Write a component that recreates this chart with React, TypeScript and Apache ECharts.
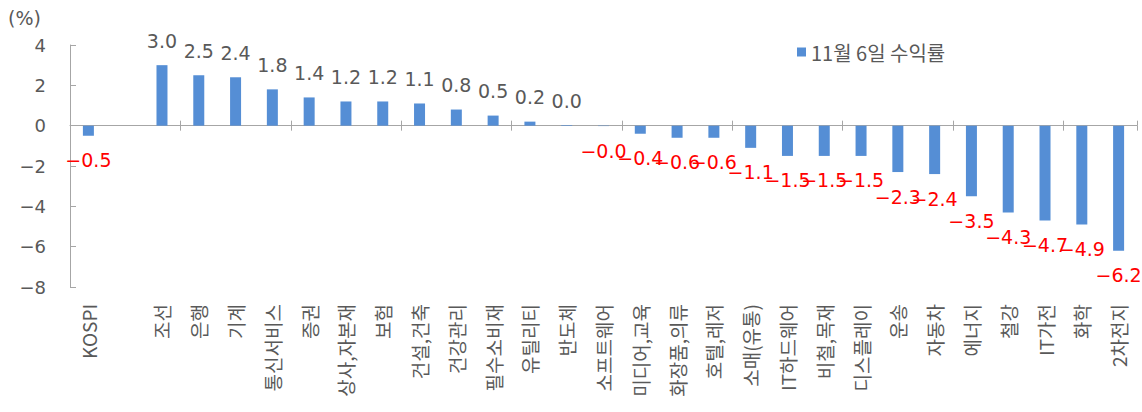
import React, { useEffect, useRef } from "react";
import * as echarts from "echarts";

const categories: string[] = [
  "KOSPI", "", "조선", "은행", "기계", "통신서비스", "증권", "상사,자본재", "보험",
  "건설,건축", "건강관리", "필수소비재", "유틸리티", "반도체", "소프트웨어",
  "미디어,교육", "화장품,의류", "호텔,레저", "소매(유통)", "IT하드웨어", "비철,목재",
  "디스플레이", "운송", "자동차", "에너지", "철강", "IT가전", "화학", "2차전지",
];

const returns: (number | null)[] = [
  -0.5, null, 3.0, 2.5, 2.4, 1.8, 1.4, 1.2, 1.2,
  1.1, 0.8, 0.5, 0.2, 0.03, -0.02,
  -0.4, -0.6, -0.6, -1.1, -1.5, -1.5,
  -1.5, -2.3, -2.4, -3.5, -4.3, -4.7, -4.9, -6.2,
];

const seriesName = "11월 6일 수익률";
const yTicks = { min: -8, max: 4, interval: 2 };
const unitLabel = "(%)";

const GRAY = "#595959";
const AXIS = "#a6a6a6";
const BLUE = "#558ed5";

const fmtNum = (v: number, digits: number) => {
  const s = digits >= 0 ? v.toFixed(digits) : String(v);
  return s.replace("-", "\u2212");
};

export default function App() {
  const ref = useRef<HTMLDivElement>(null);
  useEffect(() => {
    if (!ref.current) return;
    const chart = echarts.init(ref.current, undefined, { renderer: "svg" });
    const data = returns.map((v) =>
      v === null
        ? null
        : {
            value: v,
            label: {
              position: v < 0 ? "bottom" : "top",
              color: v < 0 ? "#ff0000" : GRAY,
            },
          }
    );
    chart.setOption({
      animation: false,
      grid: { left: 70, right: 5, top: 45, bottom: 125 },
      legend: {
        data: [seriesName],
        left: 792,
        top: 37,
        icon: "rect",
        itemWidth: 9,
        itemHeight: 9,
        itemGap: 8,
        textStyle: { fontSize: 20, color: GRAY, fontFamily: "Noto Sans CJK KR" },
      },
      graphic: [
        {
          type: "text",
          left: 8,
          top: 8,
          style: { text: unitLabel, fontSize: 19, fill: GRAY, fontFamily: "DejaVu Sans" },
        },
      ],
      xAxis: [
        {
          type: "category",
          data: categories,
          position: "bottom",
          axisLine: { onZero: true, onZeroAxisIndex: 0, lineStyle: { color: AXIS, width: 1 } },
          axisTick: { show: true, length: 5, lineStyle: { color: AXIS } },
          axisLabel: { show: false },
        },
        {
          type: "category",
          data: categories,
          position: "bottom",
          axisLine: { onZero: true, onZeroAxisIndex: 0, show: false },
          axisTick: { show: true, inside: true, length: 5, lineStyle: { color: AXIS } },
          axisLabel: { show: false },
        },
        {
          type: "category",
          data: categories,
          position: "bottom",
          axisLine: { onZero: false, show: false },
          axisTick: { show: false },
          axisLabel: {
            interval: 0,
            rotate: 90,
            margin: 17,
            fontSize: 19,
            color: GRAY,
            fontFamily: "Noto Sans CJK KR",
          },
        },
      ],
      yAxis: {
        type: "value",
        min: yTicks.min,
        max: yTicks.max,
        interval: yTicks.interval,
        axisLine: { show: true, lineStyle: { color: AXIS } },
        axisTick: { show: true, inside: true, length: 6, lineStyle: { color: AXIS } },
        splitLine: { show: false },
        axisLabel: {
          margin: 24,
          fontSize: 18,
          color: GRAY,
          fontFamily: "DejaVu Sans",
          formatter: (v: number) => fmtNum(v, -1),
        },
      },
      series: [
        {
          name: seriesName,
          type: "bar",
          xAxisIndex: 0,
          data,
          barWidth: 11,
          itemStyle: { color: BLUE },
          label: {
            show: true,
            distance: 15,
            fontSize: 19,
            fontFamily: "DejaVu Sans",
            formatter: (p: any) => fmtNum(p.value, 1),
          },
        },
      ],
    });
    return () => chart.dispose();
  }, []);
  return (
    <div
      ref={ref}
      style={{ position: "fixed", left: 0, top: 0, width: 1142, height: 412, background: "#fff" }}
    />
  );
}
